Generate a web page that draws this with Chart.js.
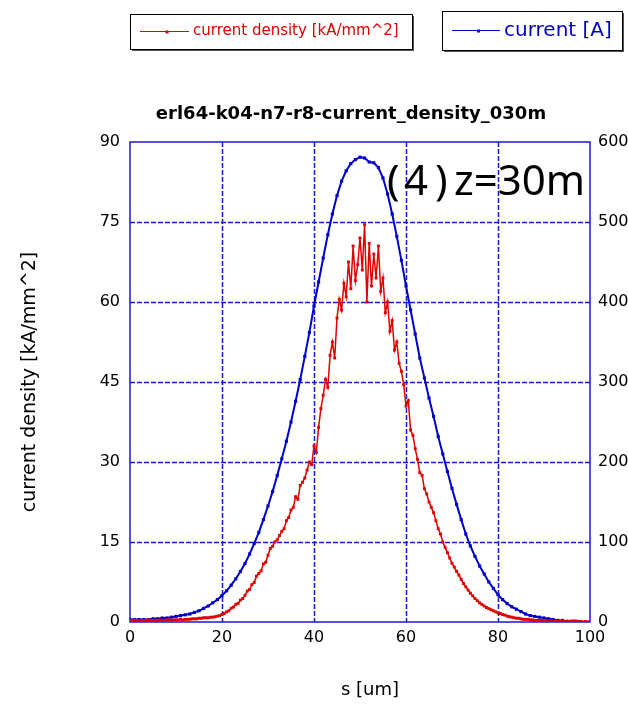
<!DOCTYPE html>
<html>
<head>
<meta charset="utf-8">
<script src="https://cdn.jsdelivr.net/npm/chart.js@4"></script>
<style>
  html, body { margin: 0; padding: 0; background: #fff; }
  #wrap { width: 628px; height: 705px; position: relative; }
</style>
</head>
<body>
<div id="wrap"><canvas id="chart" width="628" height="705"></canvas></div>
<script>
// current [A], s = 0..100 um, step 1
const currentS = [];
for (let i = 0; i <= 100; i++) currentS.push(i);
const currentA = [
  3, 3, 3, 3, 3, 4, 4, 5, 5, 6,
  7, 8, 9, 10, 12, 14, 17, 20, 24, 28,
  33, 39, 46, 54, 63, 73, 85, 98, 112, 128,
  145, 163, 183, 204, 226, 250, 276, 303, 332, 362,
  395, 425, 455, 484, 510, 533, 551, 564, 573, 578,
  581, 580, 575, 574, 568, 555, 535, 510, 482, 452,
  420, 390, 360, 330, 305, 280, 257, 232, 210, 188,
  167, 147, 128, 110, 95, 82, 70, 60, 50, 42,
  34, 28, 23, 19, 16, 13, 10, 8, 7, 6,
  5, 4, 3, 2, 2, 1, 1, 1, 0, 0,
  0
];

// current density [kA/mm^2], s = 0..100 um, step 0.5
const densityS = [];
for (let i = 0; i <= 200; i++) densityS.push(i / 2);
const densityKA = [
  0.3, 0.3, 0.3, 0.3, 0.2, 0.3, 0.3, 0.3, 0.4, 0.3,
  0.3, 0.3, 0.3, 0.4, 0.3, 0.3, 0.4, 0.4, 0.3, 0.4,
  0.4, 0.4, 0.5, 0.4, 0.5, 0.5, 0.5, 0.6, 0.6, 0.6,
  0.7, 0.7, 0.8, 0.8, 0.8, 0.9, 0.9, 1.0, 1.1, 1.2,
  1.4, 1.6, 1.9, 2.1, 2.6, 2.8, 3.3, 3.5, 4.1, 4.4,
  5.0, 5.8, 6.1, 7.0, 7.4, 8.6, 9.1, 9.6, 10.9, 11.2,
  12.5, 13.8, 14.2, 15.0, 15.4, 16.2, 17.0, 17.5, 19.0, 19.6,
  21.0, 21.5, 23.5, 23.0, 25.6, 26.2, 27.0, 28.5, 30.0, 29.5,
  33.0, 31.8, 36.5, 40.0, 42.5, 45.5, 44.0, 50.0, 52.5, 49.5,
  57.0, 60.5, 58.5, 63.5, 61.0, 67.5, 62.5, 70.5, 64.0, 67.0,
  72.0, 66.0, 74.5, 60.0, 71.0, 63.0, 69.0, 64.5, 70.5, 62.0,
  64.5, 58.0, 60.0, 54.5, 56.5, 51.0, 52.5, 48.5, 47.0, 44.5,
  40.5, 41.5, 36.0, 35.0, 32.5, 30.5, 28.0, 27.5, 25.0, 24.0,
  22.5, 21.5, 20.5, 19.0, 17.5, 16.5, 15.0, 14.0, 13.0, 12.0,
  11.0, 10.3, 9.5, 8.8, 8.0, 7.2, 6.6, 6.0, 5.4, 4.9,
  4.4, 4.0, 3.6, 3.3, 3.0, 2.7, 2.5, 2.3, 2.1, 1.9,
  1.7, 1.6, 1.4, 1.3, 1.1, 1.0, 0.9, 0.8, 0.7, 0.7,
  0.6, 0.5, 0.5, 0.5, 0.4, 0.4, 0.3, 0.3, 0.3, 0.3,
  0.2, 0.3, 0.2, 0.2, 0.1, 0.2, 0.1, 0.1, 0.2, 0.1,
  0.1, 0.1, 0.1, 0.2, 0.1, 0.1, 0.1, 0.0, 0.1, 0.0,
  0.0
];

const xTicks = [0, 20, 40, 60, 80, 100];
const leftTicks = [0, 15, 30, 45, 60, 75, 90];
const rightTicks = [0, 100, 200, 300, 400, 500, 600];

const RED = '#e00000';
const BLUE = '#0000cc';
const GRID = '#1a1ad0';
const tickFont = { family: 'DejaVu Sans', size: 16 };

// dashed grid and solid frame, behind the data
const gridLines = {
  id: 'gridLines',
  beforeDatasetsDraw(chart) {
    const ctx = chart.ctx;
    const a = chart.chartArea;
    const sx = chart.scales.x, sy = chart.scales.y;
    ctx.save();
    ctx.strokeStyle = GRID;
    ctx.lineWidth = 1.5;
    ctx.setLineDash([5, 2]);
    xTicks.slice(1, -1).forEach(v => {
      const px = Math.round(sx.getPixelForValue(v)) + 0.5;
      ctx.beginPath(); ctx.moveTo(px, a.top); ctx.lineTo(px, a.bottom); ctx.stroke();
    });
    leftTicks.slice(1, -1).forEach(v => {
      const py = Math.round(sy.getPixelForValue(v)) + 0.5;
      ctx.beginPath(); ctx.moveTo(a.left, py); ctx.lineTo(a.right, py); ctx.stroke();
    });
    ctx.setLineDash([]);
    ctx.lineWidth = 1.5;
    ctx.strokeRect(a.left, a.top, a.right - a.left, a.bottom - a.top);
    ctx.restore();
  }
};

// draws title, axis titles, legend boxes and the annotation
const extras = {
  id: 'extras',
  afterDraw(chart) {
    const ctx = chart.ctx;
    ctx.save();
    ctx.fillStyle = '#000';
    ctx.textAlign = 'center';
    ctx.textBaseline = 'middle';
    ctx.font = 'bold 18px DejaVu Sans';
    ctx.fillText('erl64-k04-n7-r8-current_density_030m', 351, 114);

    ctx.font = '18px DejaVu Sans';
    ctx.fillText('s [um]', 370, 690);
    ctx.save();
    ctx.translate(30, 382);
    ctx.rotate(-Math.PI / 2);
    ctx.font = '19px DejaVu Sans';
    ctx.fillText('current density [kA/mm^2]', 0, 0);
    ctx.restore();

    // (4) z=30m
    ctx.font = '42px "Noto Sans"';
    ctx.textAlign = 'left';
    ctx.textBaseline = 'alphabetic';
    ctx.fillText('(', 387, 195);
    ctx.fillText('4', 404, 195);
    ctx.fillText(')', 435, 195);
    ctx.fillText('z=30m', 454, 195);

    // legend boxes
    ctx.textBaseline = 'middle';
    const boxes = [
      { x: 130, y: 14, w: 282, h: 35, color: RED, text: 'current density [kA/mm^2]', font: '15px DejaVu Sans', lx: 140, tx: 193 },
      { x: 442, y: 11, w: 180, h: 39, color: BLUE, text: 'current [A]', font: '20px DejaVu Sans', lx: 452, tx: 504 }
    ];
    boxes.forEach(b => {
      ctx.fillStyle = '#555';
      ctx.fillRect(b.x + 2, b.y + 2, b.w, b.h);
      ctx.fillStyle = '#fff';
      ctx.fillRect(b.x, b.y, b.w, b.h);
      ctx.strokeStyle = '#000';
      ctx.lineWidth = 1;
      ctx.strokeRect(b.x + 0.5, b.y + 0.5, b.w, b.h);
      const cy = b.y + b.h / 2;
      ctx.strokeStyle = b.color;
      ctx.beginPath();
      ctx.moveTo(b.lx, cy);
      ctx.lineTo(b.tx - 4, cy);
      ctx.stroke();
      ctx.fillStyle = b.color;
      ctx.fillRect((b.lx + b.tx) / 2 - 1, cy - 1, 3, 3);
      ctx.font = b.font;
      ctx.textAlign = 'left';
      ctx.fillText(b.text, b.tx, cy);
    });
    ctx.restore();
  }
};

new Chart(document.getElementById('chart'), {
  type: 'line',
  data: {
    datasets: [
      {
        label: 'current density [kA/mm^2]',
        data: densityS.map((s, i) => ({ x: s, y: densityKA[i] })),
        borderColor: RED,
        backgroundColor: RED,
        borderWidth: 1.5,
        pointRadius: 1,
        pointStyle: 'rect',
        yAxisID: 'y',
        order: 1
      },
      {
        label: 'current [A]',
        data: currentS.map((s, i) => ({ x: s, y: currentA[i] })),
        borderColor: BLUE,
        backgroundColor: BLUE,
        borderWidth: 2,
        pointRadius: 0.8,
        pointStyle: 'rect',
        yAxisID: 'y1',
        order: 2
      }
    ]
  },
  options: {
    responsive: false,
    animation: false,
    layout: { padding: { top: 142, left: 0, right: 0, bottom: 0 } },
    plugins: {
      legend: { display: false },
      tooltip: { enabled: false }
    },
    scales: {
      x: {
        type: 'linear',
        min: 0, max: 100,
        afterBuildTicks: s => { s.ticks = xTicks.map(v => ({ value: v })); },
        afterFit: s => { s.height = 83; },
        ticks: { color: '#000', font: tickFont, padding: 6, maxRotation: 0 },
        grid: { display: false, tickLength: 0 },
        border: { display: false }
      },
      y: {
        position: 'left',
        min: 0, max: 90,
        afterBuildTicks: s => { s.ticks = leftTicks.map(v => ({ value: v })); },
        afterFit: s => { s.width = 130; },
        ticks: { color: '#000', font: tickFont, padding: 10 },
        grid: { display: false, tickLength: 0 },
        border: { display: false }
      },
      y1: {
        position: 'right',
        min: 0, max: 600,
        afterBuildTicks: s => { s.ticks = rightTicks.map(v => ({ value: v })); },
        afterFit: s => { s.width = 38; },
        ticks: { color: '#000', font: tickFont, padding: 8 },
        grid: { display: false, tickLength: 0 },
        border: { display: false }
      }
    }
  },
  plugins: [gridLines, extras]
});
</script>
</body>
</html>
